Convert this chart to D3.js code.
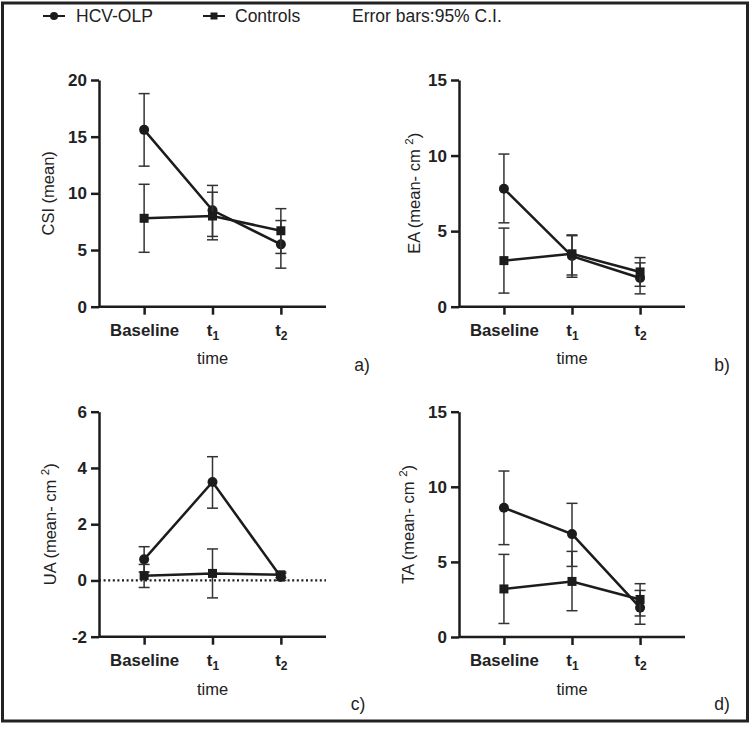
<!DOCTYPE html>
<html><head><meta charset="utf-8">
<script src="https://cdn.jsdelivr.net/npm/d3@7"></script>
<style>
html,body{margin:0;padding:0;background:#fff;}
svg text{font-family:"Liberation Sans",Arial,Helvetica,sans-serif;fill:#222;}
</style></head>
<body><svg id="chart" width="752" height="730"></svg>
<script>
// ---- data ----
const categories = ["Baseline", "t1", "t2"];
const seriesNames = ["HCV-OLP", "Controls"];

const csiHcv = [15.6, 8.5, 5.5];
const csiHcvLo = [12.4, 6.2, 3.4];
const csiHcvHi = [18.8, 10.7, 7.6];
const csiCtl = [7.8, 8.0, 6.7];
const csiCtlLo = [4.8, 5.9, 4.7];
const csiCtlHi = [10.8, 10.1, 8.65];

const eaHcv = [7.8, 3.35, 1.9];
const eaHcvLo = [5.55, 1.95, 0.85];
const eaHcvHi = [10.1, 4.7, 2.9];
const eaCtl = [3.05, 3.5, 2.3];
const eaCtlLo = [0.9, 2.1, 1.35];
const eaCtlHi = [5.2, 4.75, 3.25];

const uaHcv = [0.75, 3.5, 0.12];
const uaHcvLo = [0.3, 2.57, 0.0];
const uaHcvHi = [1.2, 4.4, 0.25];
const uaCtl = [0.17, 0.25, 0.2];
const uaCtlLo = [-0.25, -0.62, 0.1];
const uaCtlHi = [0.57, 1.12, 0.3];

const taHcv = [8.6, 6.85, 1.95];
const taHcvLo = [6.15, 4.7, 0.85];
const taHcvHi = [11.05, 8.9, 3.1];
const taCtl = [3.2, 3.7, 2.5];
const taCtlLo = [0.9, 1.75, 1.4];
const taCtlHi = [5.5, 5.7, 3.55];

const ticksCSI = [0, 5, 10, 15, 20];
const ticksEA = [0, 5, 10, 15];
const ticksUA = [-2, 0, 2, 4, 6];
const ticksTA = [0, 5, 10, 15];

// ---- layout ----
const panels = [
  {title:"CSI (mean)", sup:null, tag:"a)", domain:[0,20], ticks:ticksCSI,
   hcv:[csiHcv,csiHcvLo,csiHcvHi], ctl:[csiCtl,csiCtlLo,csiCtlHi],
   x0:99, x1:326, yTop:80, yBot:306.7, titleX:48, tagX:362, tagY:371, timeY:364, zeroLine:false},
  {title:"EA (mean- cm ", sup:"2", tag:"b)", domain:[0,15], ticks:ticksEA,
   hcv:[eaHcv,eaHcvLo,eaHcvHi], ctl:[eaCtl,eaCtlLo,eaCtlHi],
   x0:459, x1:685, yTop:80, yBot:306.7, titleX:414, tagX:722, tagY:371, timeY:364, zeroLine:false},
  {title:"UA (mean- cm ", sup:"2", tag:"c)", domain:[-2,6], ticks:ticksUA,
   hcv:[uaHcv,uaHcvLo,uaHcvHi], ctl:[uaCtl,uaCtlLo,uaCtlHi],
   x0:99, x1:326, yTop:411.7, yBot:636.7, titleX:50, tagX:358, tagY:710, timeY:695, zeroLine:true},
  {title:"TA (mean- cm ", sup:"2", tag:"d)", domain:[0,15], ticks:ticksTA,
   hcv:[taHcv,taHcvLo,taHcvHi], ctl:[taCtl,taCtlLo,taCtlHi],
   x0:459, x1:685, yTop:411.7, yBot:637, titleX:408, tagX:722, tagY:710, timeY:695, zeroLine:false}
];

const svg = d3.select("#chart");
const ink = "#1c1c1c";

// frame
svg.append("rect").attr("x",2.5).attr("y",3).attr("width",745).attr("height",718)
  .attr("fill","none").attr("stroke","#222").attr("stroke-width",3);

// legend
const legY = 16;
const leg = svg.append("g");
const legItems = [{name:seriesNames[0], shape:"circle", lx:43, tx:76},
                  {name:seriesNames[1], shape:"square", lx:203, tx:235}];
legItems.forEach(it=>{
  leg.append("line").attr("x1",it.lx).attr("x2",it.lx+22).attr("y1",legY).attr("y2",legY)
     .attr("stroke",ink).attr("stroke-width",2);
  if(it.shape==="circle"){
    leg.append("circle").attr("cx",it.lx+11).attr("cy",legY).attr("r",4).attr("fill",ink);
  } else {
    leg.append("rect").attr("x",it.lx+7.5).attr("y",legY-3.5).attr("width",7).attr("height",7).attr("fill",ink);
  }
  leg.append("text").attr("x",it.tx).attr("y",legY).attr("dy","0.35em")
     .attr("font-size",17.5).text(it.name);
});
leg.append("text").attr("x",352).attr("y",legY).attr("dy","0.35em").attr("font-size",17.5)
   .text("Error bars:95% C.I.");

function tickText(sel){
  sel.each(function(d){
    const t = d3.select(this);
    const lab = categories[d];
    t.text(null);
    if(lab.length===2 && lab[0]==="t"){
      t.append("tspan").text("t");
      t.append("tspan").attr("font-size",12).attr("dy",4).text(lab[1]);
    } else {
      t.append("tspan").text(lab);
    }
  });
}

panels.forEach(p=>{
  const g = svg.append("g");
  const x = d3.scaleLinear().domain([-0.66, 2.66]).range([p.x0, p.x1]);
  const y = d3.scaleLinear().domain(p.domain).range([p.yBot, p.yTop]);

  // zero dotted line
  if(p.zeroLine){
    g.append("line").attr("x1",p.x0).attr("x2",p.x1).attr("y1",y(0)).attr("y2",y(0))
     .attr("stroke",ink).attr("stroke-width",2.2).attr("stroke-dasharray","2,2.6");
  }

  // y axis
  const ya = g.append("g").attr("transform",`translate(${p.x0},0)`)
    .call(d3.axisLeft(y).tickValues(p.ticks).tickSize(8).tickSizeOuter(0).tickPadding(4).tickFormat(d => String(d)));
  ya.select(".domain").attr("stroke",ink).attr("stroke-width",2.5);
  ya.selectAll(".tick line").attr("stroke",ink).attr("stroke-width",2.5);
  ya.selectAll(".tick text").attr("font-size",17).attr("font-weight","bold").attr("fill","#222")
    .attr("font-family",'"Liberation Sans",Arial,sans-serif');

  // x axis
  const xa = g.append("g").attr("transform",`translate(0,${p.yBot})`)
    .call(d3.axisBottom(x).tickValues([0,1,2]).tickSize(8).tickSizeOuter(0));
  xa.select(".domain").attr("stroke",ink).attr("stroke-width",2.5)
    .attr("d",`M${p.x0},0H${p.x1}`);
  xa.selectAll(".tick line").attr("stroke",ink).attr("stroke-width",2.5);
  xa.selectAll(".tick text").attr("font-size",16.8).attr("font-weight","bold").attr("fill","#222")
    .attr("font-family",'"Liberation Sans",Arial,sans-serif')
    .attr("y",29).attr("dy",0).call(tickText);

  // y title
  const yc = (p.yTop+p.yBot)/2;
  const tt = g.append("text").attr("transform",`translate(${p.titleX},${yc}) rotate(-90)`)
    .attr("text-anchor","middle").attr("dy","0.35em").attr("font-size",16.5);
  tt.append("tspan").text(p.title);
  if(p.sup){
    tt.append("tspan").attr("font-size",11.5).attr("dy",-7).text(p.sup);
    tt.append("tspan").attr("dy",7).text(")");
  }

  // x title & tag
  g.append("text").attr("x",x(1)).attr("y",p.timeY).attr("text-anchor","middle")
   .attr("font-size",16.5).text("time");
  g.append("text").attr("x",p.tagX).attr("y",p.tagY).attr("text-anchor","middle")
   .attr("font-size",17.5).text(p.tag);

  const series = [{v:p.hcv, shape:"circle"}, {v:p.ctl, shape:"square"}];
  series.forEach(s=>{
    const [m, lo, hi] = s.v;
    const idx = m.map((_,i)=>i);
    // error bars
    const eb = g.append("g").attr("stroke","#333").attr("stroke-width",1.5);
    idx.forEach(i=>{
      eb.append("line").attr("x1",x(i)).attr("x2",x(i)).attr("y1",y(lo[i])).attr("y2",y(hi[i]));
      eb.append("line").attr("x1",x(i)-5.5).attr("x2",x(i)+5.5).attr("y1",y(lo[i])).attr("y2",y(lo[i]));
      eb.append("line").attr("x1",x(i)-5.5).attr("x2",x(i)+5.5).attr("y1",y(hi[i])).attr("y2",y(hi[i]));
    });
    // line
    g.append("path").datum(idx)
      .attr("d", d3.line().x(i=>x(i)).y(i=>y(m[i])))
      .attr("fill","none").attr("stroke",ink).attr("stroke-width",2.5);
    // markers
    if(s.shape==="circle"){
      g.selectAll(null).data(idx).enter().append("circle")
        .attr("cx",i=>x(i)).attr("cy",i=>y(m[i])).attr("r",5).attr("fill",ink);
    } else {
      g.selectAll(null).data(idx).enter().append("rect")
        .attr("x",i=>x(i)-4.5).attr("y",i=>y(m[i])-4.5).attr("width",9).attr("height",9).attr("fill",ink);
    }
  });
});
</script></body></html>
